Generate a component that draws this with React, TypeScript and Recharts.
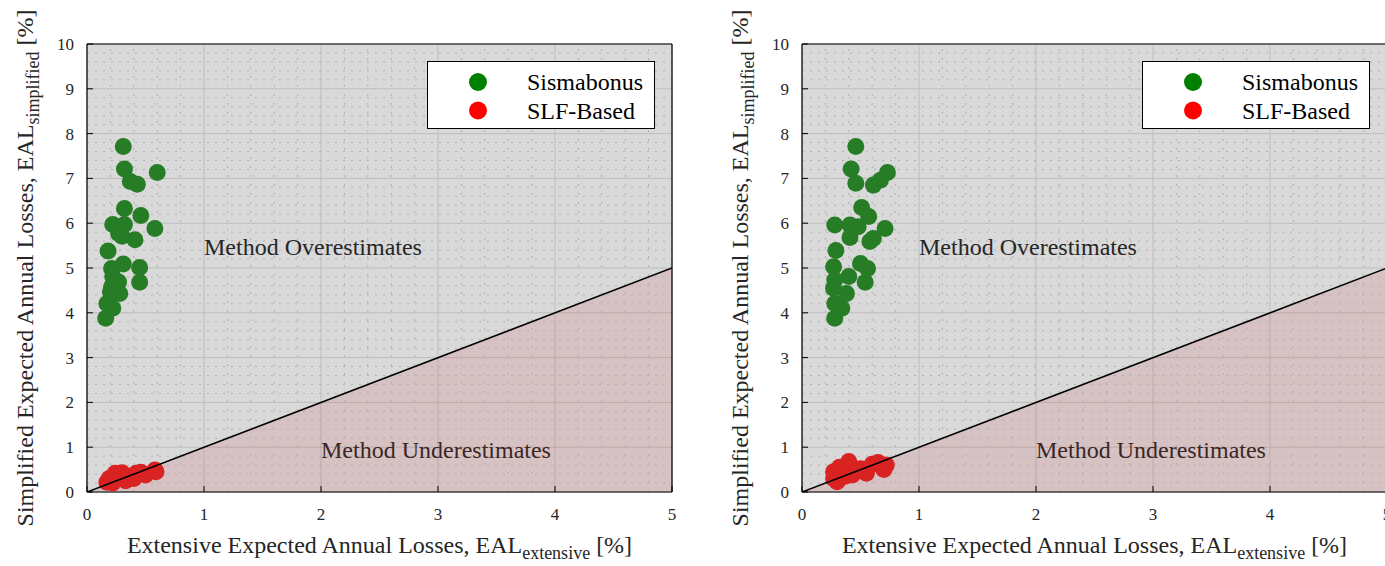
import React from "react";
import {
  Area,
  CartesianGrid,
  ComposedChart,
  Legend,
  ReferenceDot,
  ReferenceLine,
  Scatter,
  XAxis,
  YAxis,
} from "recharts";

type Point = { x: number; y: number };

const serif = "'Liberation Serif', 'Times New Roman', serif";

const xTicks = [0, 1, 2, 3, 4, 5];
const yTicks = [0, 1, 2, 3, 4, 5, 6, 7, 8, 9, 10];
const minorXTicks = [
  0.2, 0.4, 0.6, 0.8, 1.2, 1.4, 1.6, 1.8, 2.2, 2.4, 2.6, 2.8, 3.2, 3.4, 3.6,
  3.8, 4.2, 4.4, 4.6, 4.8,
];
const minorYTicks = [
  0.2, 0.4, 0.6, 0.8, 1.2, 1.4, 1.6, 1.8, 2.2, 2.4, 2.6, 2.8, 3.2, 3.4, 3.6,
  3.8, 4.2, 4.4, 4.6, 4.8, 5.2, 5.4, 5.6, 5.8, 6.2, 6.4, 6.6, 6.8, 7.2, 7.4,
  7.6, 7.8, 8.2, 8.4, 8.6, 8.8, 9.2, 9.4, 9.6, 9.8,
];

// line of equality, EAL simplified = EAL extensive
const equalityLine: Point[] = [
  { x: 0, y: 0 },
  { x: 5, y: 5 },
];

const leftSismabonus: Point[] = [
  { x: 0.31, y: 7.71 }, { x: 0.32, y: 7.21 }, { x: 0.6, y: 7.13 },
  { x: 0.37, y: 6.93 }, { x: 0.43, y: 6.87 }, { x: 0.32, y: 6.33 },
  { x: 0.46, y: 6.17 }, { x: 0.22, y: 5.97 }, { x: 0.32, y: 5.97 },
  { x: 0.58, y: 5.88 }, { x: 0.27, y: 5.77 }, { x: 0.3, y: 5.71 },
  { x: 0.41, y: 5.63 }, { x: 0.18, y: 5.38 }, { x: 0.31, y: 5.09 },
  { x: 0.21, y: 4.99 }, { x: 0.45, y: 5.01 }, { x: 0.22, y: 4.81 },
  { x: 0.27, y: 4.69 }, { x: 0.45, y: 4.68 }, { x: 0.21, y: 4.58 },
  { x: 0.2, y: 4.47 }, { x: 0.28, y: 4.43 }, { x: 0.17, y: 4.21 },
  { x: 0.22, y: 4.1 }, { x: 0.16, y: 3.88 },
];

const leftSlfBased: Point[] = [
  { x: 0.17, y: 0.22 }, { x: 0.19, y: 0.3 }, { x: 0.24, y: 0.42 },
  { x: 0.3, y: 0.43 }, { x: 0.27, y: 0.3 }, { x: 0.35, y: 0.35 },
  { x: 0.42, y: 0.42 }, { x: 0.46, y: 0.44 }, { x: 0.5, y: 0.38 },
  { x: 0.58, y: 0.49 }, { x: 0.59, y: 0.45 }, { x: 0.22, y: 0.2 },
  { x: 0.33, y: 0.25 }, { x: 0.4, y: 0.3 },
];

const rightSismabonus: Point[] = [
  { x: 0.46, y: 7.71 }, { x: 0.42, y: 7.21 }, { x: 0.73, y: 7.13 },
  { x: 0.46, y: 6.89 }, { x: 0.61, y: 6.85 }, { x: 0.67, y: 6.96 },
  { x: 0.51, y: 6.35 }, { x: 0.57, y: 6.15 }, { x: 0.28, y: 5.96 },
  { x: 0.41, y: 5.96 }, { x: 0.48, y: 5.92 }, { x: 0.71, y: 5.88 },
  { x: 0.41, y: 5.68 }, { x: 0.61, y: 5.66 }, { x: 0.58, y: 5.59 },
  { x: 0.29, y: 5.39 }, { x: 0.5, y: 5.1 }, { x: 0.56, y: 4.99 },
  { x: 0.27, y: 5.03 }, { x: 0.4, y: 4.81 }, { x: 0.54, y: 4.68 },
  { x: 0.28, y: 4.73 }, { x: 0.27, y: 4.55 }, { x: 0.38, y: 4.43 },
  { x: 0.28, y: 4.21 }, { x: 0.34, y: 4.1 }, { x: 0.28, y: 3.88 },
];

const rightSlfBased: Point[] = [
  { x: 0.27, y: 0.3 }, { x: 0.27, y: 0.45 }, { x: 0.32, y: 0.55 },
  { x: 0.4, y: 0.68 }, { x: 0.37, y: 0.35 }, { x: 0.45, y: 0.45 },
  { x: 0.5, y: 0.52 }, { x: 0.55, y: 0.42 }, { x: 0.6, y: 0.62 },
  { x: 0.65, y: 0.66 }, { x: 0.72, y: 0.6 }, { x: 0.7, y: 0.5 },
  { x: 0.43, y: 0.38 }, { x: 0.3, y: 0.23 },
];

const seriesNames = ["Sismabonus", "SLF-Based"];
const markerColors = ["#267d26", "#d92222"];
const legendColors = ["#008000", "#ff0000"];

function renderMarker(color: string) {
  return (props: any) => (
    <circle cx={props.cx} cy={props.cy} r={8.5} fill={color} />
  );
}

function LegendBox() {
  return (
    <svg width={228} height={68} style={{ display: "block" }}>
      <rect x={0.5} y={0.5} width={227} height={67} fill="#fff" stroke="#000" />
      {seriesNames.map((name, i) => (
        <g key={name}>
          <circle cx={51} cy={21 + i * 28.5} r={9} fill={legendColors[i]} />
          <text
            x={100}
            y={21 + i * 28.5}
            dy="0.35em"
            fontSize={24}
            fontFamily={serif}
            style={{ fontFamily: serif }}
            fill="#000"
          >
            {name}
          </text>
        </g>
      ))}
    </svg>
  );
}

function XTitle(props: any) {
  const vb = props.viewBox ?? { x: 87, y: 492, width: 585, height: 74 };
  const cx = vb.x + vb.width / 2;
  return (
    <text
      x={cx}
      y={vb.y + 61}
      textAnchor="middle"
      fontSize={24}
      style={{ fontFamily: serif }}
      fill="#262626"
    >
      Extensive Expected Annual Losses, EAL
      <tspan fontSize={18} dy={6}>
        extensive
      </tspan>
      <tspan dy={-6}> [%]</tspan>
    </text>
  );
}

function YTitle(props: any) {
  const vb = props.viewBox ?? { x: 0, y: 44, width: 87, height: 448 };
  const bx = vb.x + 33;
  const cy = vb.y + vb.height / 2;
  return (
    <text
      x={bx}
      y={cy}
      transform={`rotate(-90 ${bx} ${cy})`}
      textAnchor="middle"
      fontSize={24}
      style={{ fontFamily: serif }}
      fill="#262626"
    >
      Simplified Expected Annual Losses, EAL
      <tspan fontSize={18} dy={6}>
        simplified
      </tspan>
      <tspan dy={-6}> [%]</tspan>
    </text>
  );
}

type PanelProps = {
  sismabonus: Point[];
  slfBased: Point[];
};

function EalPanel({ sismabonus, slfBased }: PanelProps) {
  const axisLine = { stroke: "#000", strokeWidth: 1.2 };
  const tickStyle = {
    fontSize: 17,
    fill: "#262626",
    fontFamily: serif,
    style: { fontFamily: serif },
  };

  return (
    <ComposedChart
      width={700}
      height={566}
      data={equalityLine}
      margin={{ top: 0, right: 0, bottom: 0, left: 0 }}
      style={{ fontFamily: serif }}
    >
      <CartesianGrid stroke="#bdbdbd" fill="#d9d9d9" fillOpacity={1} />
      {minorXTicks.map((v) => (
        <ReferenceLine
          key={`mx${v}`}
          x={v}
          stroke="#b0b0b0"
          strokeDasharray="2 7"
        />
      ))}
      {minorYTicks.map((v) => (
        <ReferenceLine
          key={`my${v}`}
          y={v}
          stroke="#b0b0b0"
          strokeDasharray="2 6"
        />
      ))}

      <XAxis
        dataKey="x"
        type="number"
        domain={[0, 5]}
        ticks={xTicks}
        interval={0}
        allowDataOverflow
        height={74}
        tickSize={-6}
        tickMargin={22}
        axisLine={axisLine}
        tickLine={{ stroke: "#000" }}
        tick={tickStyle}
        label={<XTitle />}
      />
      <YAxis
        dataKey="y"
        type="number"
        domain={[0, 10]}
        ticks={yTicks}
        interval={0}
        allowDataOverflow
        width={87}
        tickSize={-6}
        tickMargin={19}
        axisLine={axisLine}
        tickLine={{ stroke: "#000" }}
        tick={tickStyle}
        label={<YTitle />}
      />
      <XAxis
        xAxisId="top"
        orientation="top"
        type="number"
        domain={[0, 5]}
        ticks={xTicks}
        interval={0}
        allowDataOverflow
        height={44}
        tickSize={-6}
        axisLine={axisLine}
        tickLine={{ stroke: "#000" }}
        tick={false}
      />
      <YAxis
        yAxisId="right"
        orientation="right"
        type="number"
        domain={[0, 10]}
        ticks={yTicks}
        interval={0}
        allowDataOverflow
        width={28}
        tickSize={-6}
        axisLine={axisLine}
        tickLine={{ stroke: "#000" }}
        tick={false}
      />

      <ReferenceDot
        x={1}
        y={5.48}
        r={0}
        fill="none"
        stroke="none"
        label={{
          value: "Method Overestimates",
          position: "right",
          offset: 0,
          fontSize: 24,
          fontFamily: serif,
          fill: "#262626",
        }}
      />
      <ReferenceDot
        x={2}
        y={0.96}
        r={0}
        fill="none"
        stroke="none"
        label={{
          value: "Method Underestimates",
          position: "right",
          offset: 0,
          fontSize: 24,
          fontFamily: serif,
          fill: "#3b2626",
        }}
      />

      <Area
        dataKey="y"
        type="linear"
        stroke="none"
        fill="#c80000"
        fillOpacity={0.1}
        legendType="none"
        isAnimationActive={false}
      />
      <Scatter
        name={seriesNames[0]}
        data={sismabonus}
        shape={renderMarker(markerColors[0])}
        isAnimationActive={false}
      />
      <Scatter
        name={seriesNames[1]}
        data={slfBased}
        shape={renderMarker(markerColors[1])}
        isAnimationActive={false}
      />
      <Scatter
        data={equalityLine}
        line={{ stroke: "#000", strokeWidth: 1.6 }}
        shape={() => <g />}
        legendType="none"
        isAnimationActive={false}
      />

      <Legend
        layout="vertical"
        align="center"
        verticalAlign="middle"
        content={() => <LegendBox />}
        wrapperStyle={{ left: 427, top: 61, width: 228, height: 68 }}
      />
    </ComposedChart>
  );
}

export default function App() {
  return (
    <div
      style={{
        position: "absolute",
        left: 0,
        top: 0,
        width: 1385,
        height: 566,
        overflow: "hidden",
        background: "#fff",
      }}
    >
      <div style={{ position: "absolute", left: 0, top: 0 }}>
        <EalPanel sismabonus={leftSismabonus} slfBased={leftSlfBased} />
      </div>
      <div style={{ position: "absolute", left: 715, top: 0 }}>
        <EalPanel sismabonus={rightSismabonus} slfBased={rightSlfBased} />
      </div>
    </div>
  );
}
